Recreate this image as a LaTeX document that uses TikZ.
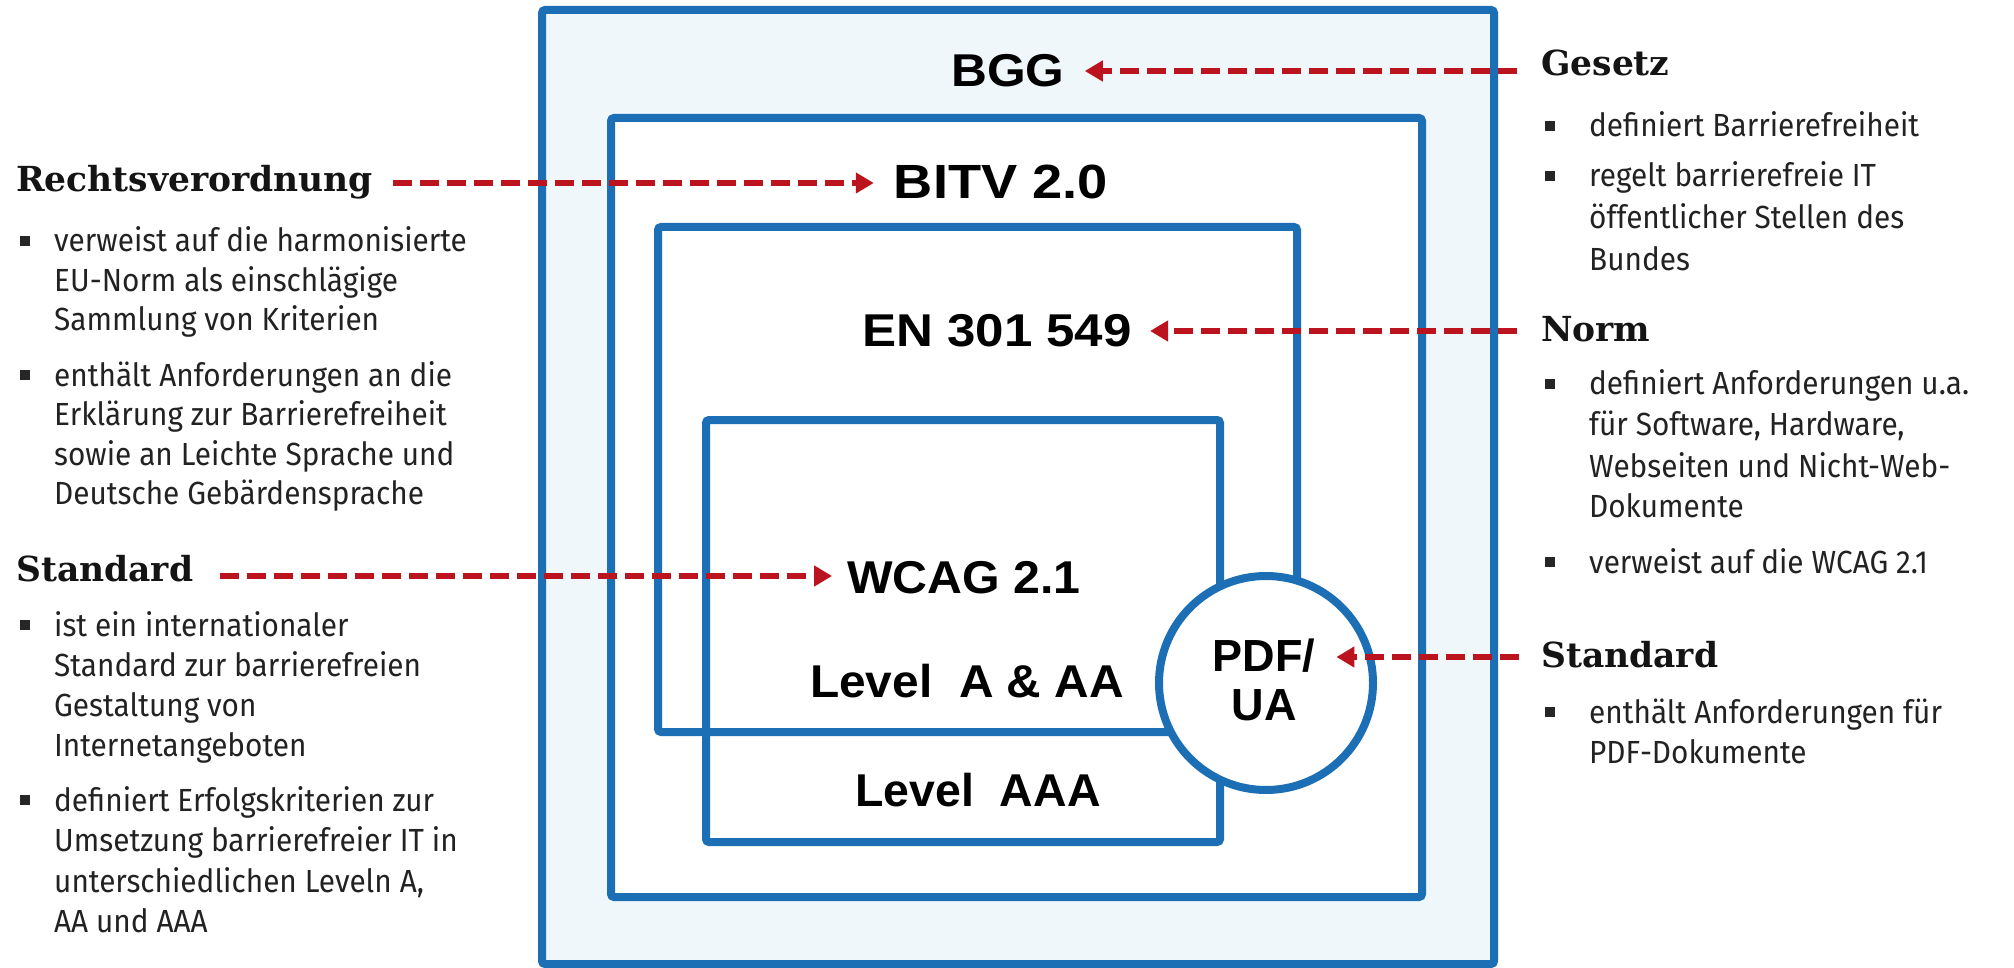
\documentclass[tikz,border=0pt]{standalone}
\usepackage{fontspec}
\setmainfont{Fira Sans}
\newfontfamily\headfont{DejaVu Serif}
\newfontfamily\boxfont{Liberation Sans}
\usetikzlibrary{arrows.meta}
\definecolor{bblue}{RGB}{28,111,180}
\definecolor{lightfill}{RGB}{239,247,250}
\definecolor{dred}{RGB}{188,20,30}
\definecolor{txtgray}{RGB}{34,34,34}
\newcommand\bodyfont{\fontsize{32}{40}\selectfont}
\newcommand\blk[2]{\parbox[t]{600pt}{\baselineskip=#1pt\relax #2}}
\begin{document}
\begin{tikzpicture}[x=1pt,y=-1pt,
  box/.style={draw=bblue, line width=8pt, rounded corners=3pt},
  lbl/.style={font=\boxfont\bfseries\fontsize{46}{54}\selectfont, anchor=base, inner sep=0pt},
  head/.style={font=\headfont\bfseries\fontsize{34.5}{40}\selectfont, anchor=base west, inner sep=0pt, text=black!92},
  body/.style={font=\bodyfont, anchor=base west, inner sep=0pt, text=txtgray, xscale=0.93},
  bsq/.style={fill=black!85, minimum size=10pt, inner sep=0pt},
  arr/.style={draw=dred, line width=6.5pt, dash pattern=on 19pt off 8pt, -{Triangle[length=18pt,width=20pt]}}]
\useasboundingbox (0,0) rectangle (2014,968);
\fill[white] (0,0) rectangle (2014,968);

% nested boxes
\draw[box, fill=lightfill] (542,10) rectangle (1494,964);
\draw[box, fill=white] (611,118) rectangle (1422,897);
\draw[box] (658,227) rectangle (1297,732);
\draw[box] (706,420) rectangle (1220,842);
\node[draw=bblue, line width=8pt, fill=white, circle, minimum size=214pt, inner sep=0pt] (pdf) at (1266,683) {};

% box labels
\node[lbl, xscale=1.08] (bgg) at (1008,87) {BGG};
\node[lbl, font=\boxfont\bfseries\fontsize{48}{54}\selectfont, xscale=1.13] (bitv) at (1001,199) {BITV 2.0};
\node[lbl, xscale=1.11] (en) at (997,347) {EN 301 549};
\node[lbl, xscale=1.05] (wcag) at (964,593) {WCAG 2.1};
\node[lbl, xscale=1.04] (lvla) at (967,697) {Level~~A \& AA};
\node[lbl, xscale=1.01] (lvlaaa) at (978,806) {Level~~AAA};
\node[font=\boxfont\bfseries\fontsize{45}{49}\selectfont, align=center, inner sep=0pt] (pdftext) at (1264,680) {PDF/\\UA};

% headings
\node[head] (rv) at (16,192) {Rechtsverordnung};
\node[head] (stl) at (16,581) {Standard};
\node[head] (gesetz) at (1541,76) {Gesetz};
\node[head] (norm) at (1541,342) {Norm};
\node[head] (str) at (1541,667) {Standard};

% left bullets
\node[bsq] (b1) at (25,241) {};
\node[body] (rv1) at (54,252) {\blk{39.5}{verweist auf die harmonisierte\\EU-Norm als einschlägige\\Sammlung von Kriterien}};
\node[bsq] (b2) at (25,375) {};
\node[body] (rv2) at (54,386) {\blk{39.5}{enthält Anforderungen an die\\Erklärung zur Barrierefreiheit\\sowie an Leichte Sprache und\\Deutsche Gebärdensprache}};
\node[bsq] (b3) at (25,625) {};
\node[body] (st1) at (54,636) {\blk{40}{ist ein internationaler\\Standard zur barrierefreien\\Gestaltung von\\Internetangeboten}};
\node[bsq] (b4) at (25,800) {};
\node[body] (st2) at (54,811) {\blk{40.5}{definiert Erfolgskriterien zur\\Umsetzung barrierefreier IT in\\unterschiedlichen Leveln A,\\AA und AAA}};

% right bullets
\node[bsq] (b5) at (1550,126) {};
\node[body] (g1) at (1589,137) {definiert Barrierefreiheit};
\node[bsq] (b6) at (1550,176) {};
\node[body] (g2) at (1589,187) {\blk{42}{regelt barrierefreie IT\\öffentlicher Stellen des\\Bundes}};
\node[bsq] (b7) at (1550,384) {};
\node[body] (n1) at (1589,395) {\blk{41}{definiert Anforderungen u.a.\\für Software, Hardware,\\Webseiten und Nicht-Web-\\Dokumente}};
\node[bsq] (b8) at (1550,562) {};
\node[body] (n2) at (1589,573) {verweist auf die WCAG 2.1};
\node[bsq] (b9) at (1550,712) {};
\node[body] (s1) at (1589,723) {\blk{40}{enthält Anforderungen für\\PDF-Dokumente}};

% arrow levels
\coordinate (yBGG) at (0,71);
\coordinate (yRV) at (0,183);
\coordinate (yEN) at (0,331);
\coordinate (yWC) at (0,576);
\coordinate (yPDF) at (0,657);

\draw[arr, shorten <=24pt, shorten >=20pt] (gesetz.west |- yBGG) -- (bgg.east |- yBGG);
\draw[arr, shorten <=20pt, shorten >=20pt] (rv.east |- yRV) -- (bitv.west |- yRV);
\draw[arr, shorten <=24pt, shorten >=18pt] (norm.west |- yEN) -- (en.east |- yEN);
\draw[arr, shorten <=27pt, shorten >=15pt] (stl.east |- yWC) -- (wcag.west |- yWC);
\draw[arr, shorten <=22pt, shorten >=21pt] (str.west |- yPDF) -- (pdftext.east |- yPDF);
\end{tikzpicture}
\end{document}
